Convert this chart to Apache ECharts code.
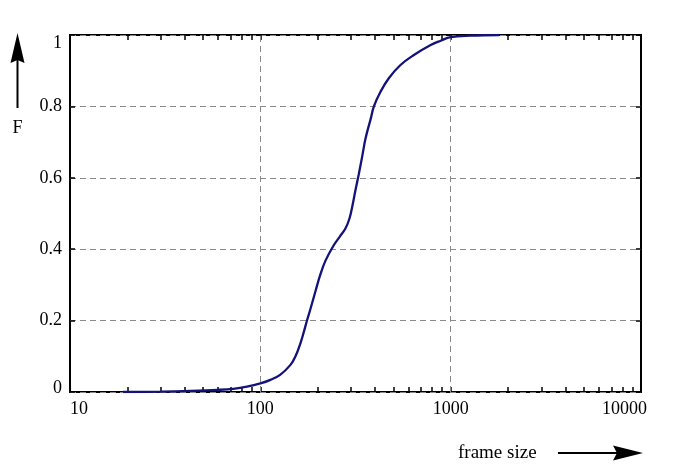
<!DOCTYPE html>
<html>
<head>
<meta charset="utf-8">
<script src="https://cdn.jsdelivr.net/npm/echarts@6/dist/echarts.min.js"></script>
<style>html,body{margin:0;padding:0;background:#fff}#c{width:693px;height:472px}</style>
</head>
<body>
<div id="c"></div>
<script>
// Frame size (x) and cumulative distribution F (y)
const frameSize = [19, 30, 43, 60, 72, 85, 100, 113, 127, 144, 153, 163, 170, 176, 183, 195, 207, 220, 243, 262, 280, 294, 304, 316, 329, 343, 357, 380, 395, 428, 473, 545, 641, 785, 886, 1000, 1274, 1800];
const cdfValues = [0, 0.001, 0.003, 0.006, 0.009, 0.015, 0.024, 0.034, 0.048, 0.076, 0.100, 0.139, 0.172, 0.201, 0.231, 0.283, 0.330, 0.368, 0.411, 0.436, 0.458, 0.486, 0.519, 0.565, 0.61, 0.66, 0.71, 0.765, 0.80, 0.841, 0.879, 0.916, 0.944, 0.972, 0.984, 0.994, 0.998, 1.0];
const xTickLabels = [10, 100, 1000, 10000];
const xGridValues = [100, 1000];
const xMinorTicks = [10,20,30,40,50,60,70,80,90,100,200,300,400,500,600,700,800,900,1000,2000,3000,4000,5000,6000,7000,8000,9000,10000];

const FONT = 'Liberation Serif';
const chart = echarts.init(document.getElementById('c'), null, {renderer: 'canvas'});
const tickStyle = {show: true, inside: true, length: 5, lineStyle: {color: '#000', width: 1.5}};
const dashStyle = {color: '#8a8a8a', type: [6, 4], width: 1};
const noLine = {show: false, onZero: false};

chart.setOption({
  animation: false,
  grid: {left: 70, right: 52, top: 35, bottom: 80, show: true, borderColor: '#000', borderWidth: 2, backgroundColor: 'transparent'},
  xAxis: [{
    type: 'log', logBase: 10, min: 10, max: 10000, position: 'bottom',
    axisLine: noLine,
    axisTick: Object.assign({}, tickStyle, {customValues: xMinorTicks}),
    axisLabel: {customValues: xTickLabels, margin: 8, color: '#000', fontFamily: FONT, fontSize: 18,
      alignMinLabel: 'left', alignMaxLabel: 'center',
      formatter: v => { const s = String(Math.round(v)); return v >= 10000 ? '{r|' + s + '}' : s; },
      rich: {r: {fontFamily: FONT, fontSize: 18, color: '#000', padding: [0, 33, 0, 0]}}
    },
    splitLine: {show: false}
  }, {
    type: 'log', logBase: 10, min: 10, max: 10000, position: 'top',
    axisLine: noLine,
    axisTick: Object.assign({}, tickStyle, {customValues: xMinorTicks}),
    axisLabel: {show: false}, splitLine: {show: false}
  }],
  yAxis: [{
    type: 'value', min: 0, max: 1, interval: 0.2, position: 'left',
    axisLine: noLine,
    axisTick: tickStyle,
    axisLabel: {margin: 8, color: '#000', fontFamily: FONT, fontSize: 18,
      formatter: v => {
        const s = String(+v.toFixed(1));
        if (v >= 1) return '{top|' + s + '}';
        if (v <= 0) return '{bot|' + s + '}';
        return s;
      },
      rich: {
        top: {fontFamily: FONT, fontSize: 18, color: '#000', padding: [16, 0, 0, 0]},
        bot: {fontFamily: FONT, fontSize: 18, color: '#000', padding: [0, 0, 8, 0]}
      }
    },
    splitLine: {show: true, lineStyle: dashStyle}
  }, {
    type: 'value', min: 0, max: 1, interval: 0.2, position: 'right',
    axisLine: noLine,
    axisTick: tickStyle,
    axisLabel: {show: false}, splitLine: {show: false}
  }],
  series: [{
    type: 'line', xAxisIndex: 0, yAxisIndex: 0, z: 3,
    data: frameSize.map((x, i) => [x, cdfValues[i]]),
    showSymbol: false, symbol: 'none', smooth: 0.4,
    lineStyle: {color: '#12127a', width: 2.3},
    markLine: {
      silent: true, symbol: 'none', label: {show: false}, z: 1,
      lineStyle: dashStyle, emphasis: {disabled: true},
      data: xGridValues.map(v => ({xAxis: v}))
    }
  }],
  graphic: [
    {type: 'line', shape: {x1: 17.5, y1: 108, x2: 17.5, y2: 55}, style: {stroke: '#000', lineWidth: 2}},
    {type: 'polygon', shape: {points: [[17.5, 33], [24.5, 63], [17.5, 60], [10.5, 63]]}, style: {fill: '#000'}},
    {type: 'text', x: 17.5, y: 128, style: {text: 'F', fontFamily: FONT, fontSize: 18, fill: '#000', align: 'center', verticalAlign: 'middle'}},
    {type: 'text', x: 458, y: 453, style: {text: 'frame size', fontFamily: FONT, fontSize: 19, fill: '#000', align: 'left', verticalAlign: 'middle'}},
    {type: 'line', shape: {x1: 558, y1: 453, x2: 620, y2: 453}, style: {stroke: '#000', lineWidth: 2}},
    {type: 'polygon', shape: {points: [[643, 453], [613, 445.5], [617, 453], [613, 460.5]]}, style: {fill: '#000'}}
  ]
});
</script>
</body>
</html>
